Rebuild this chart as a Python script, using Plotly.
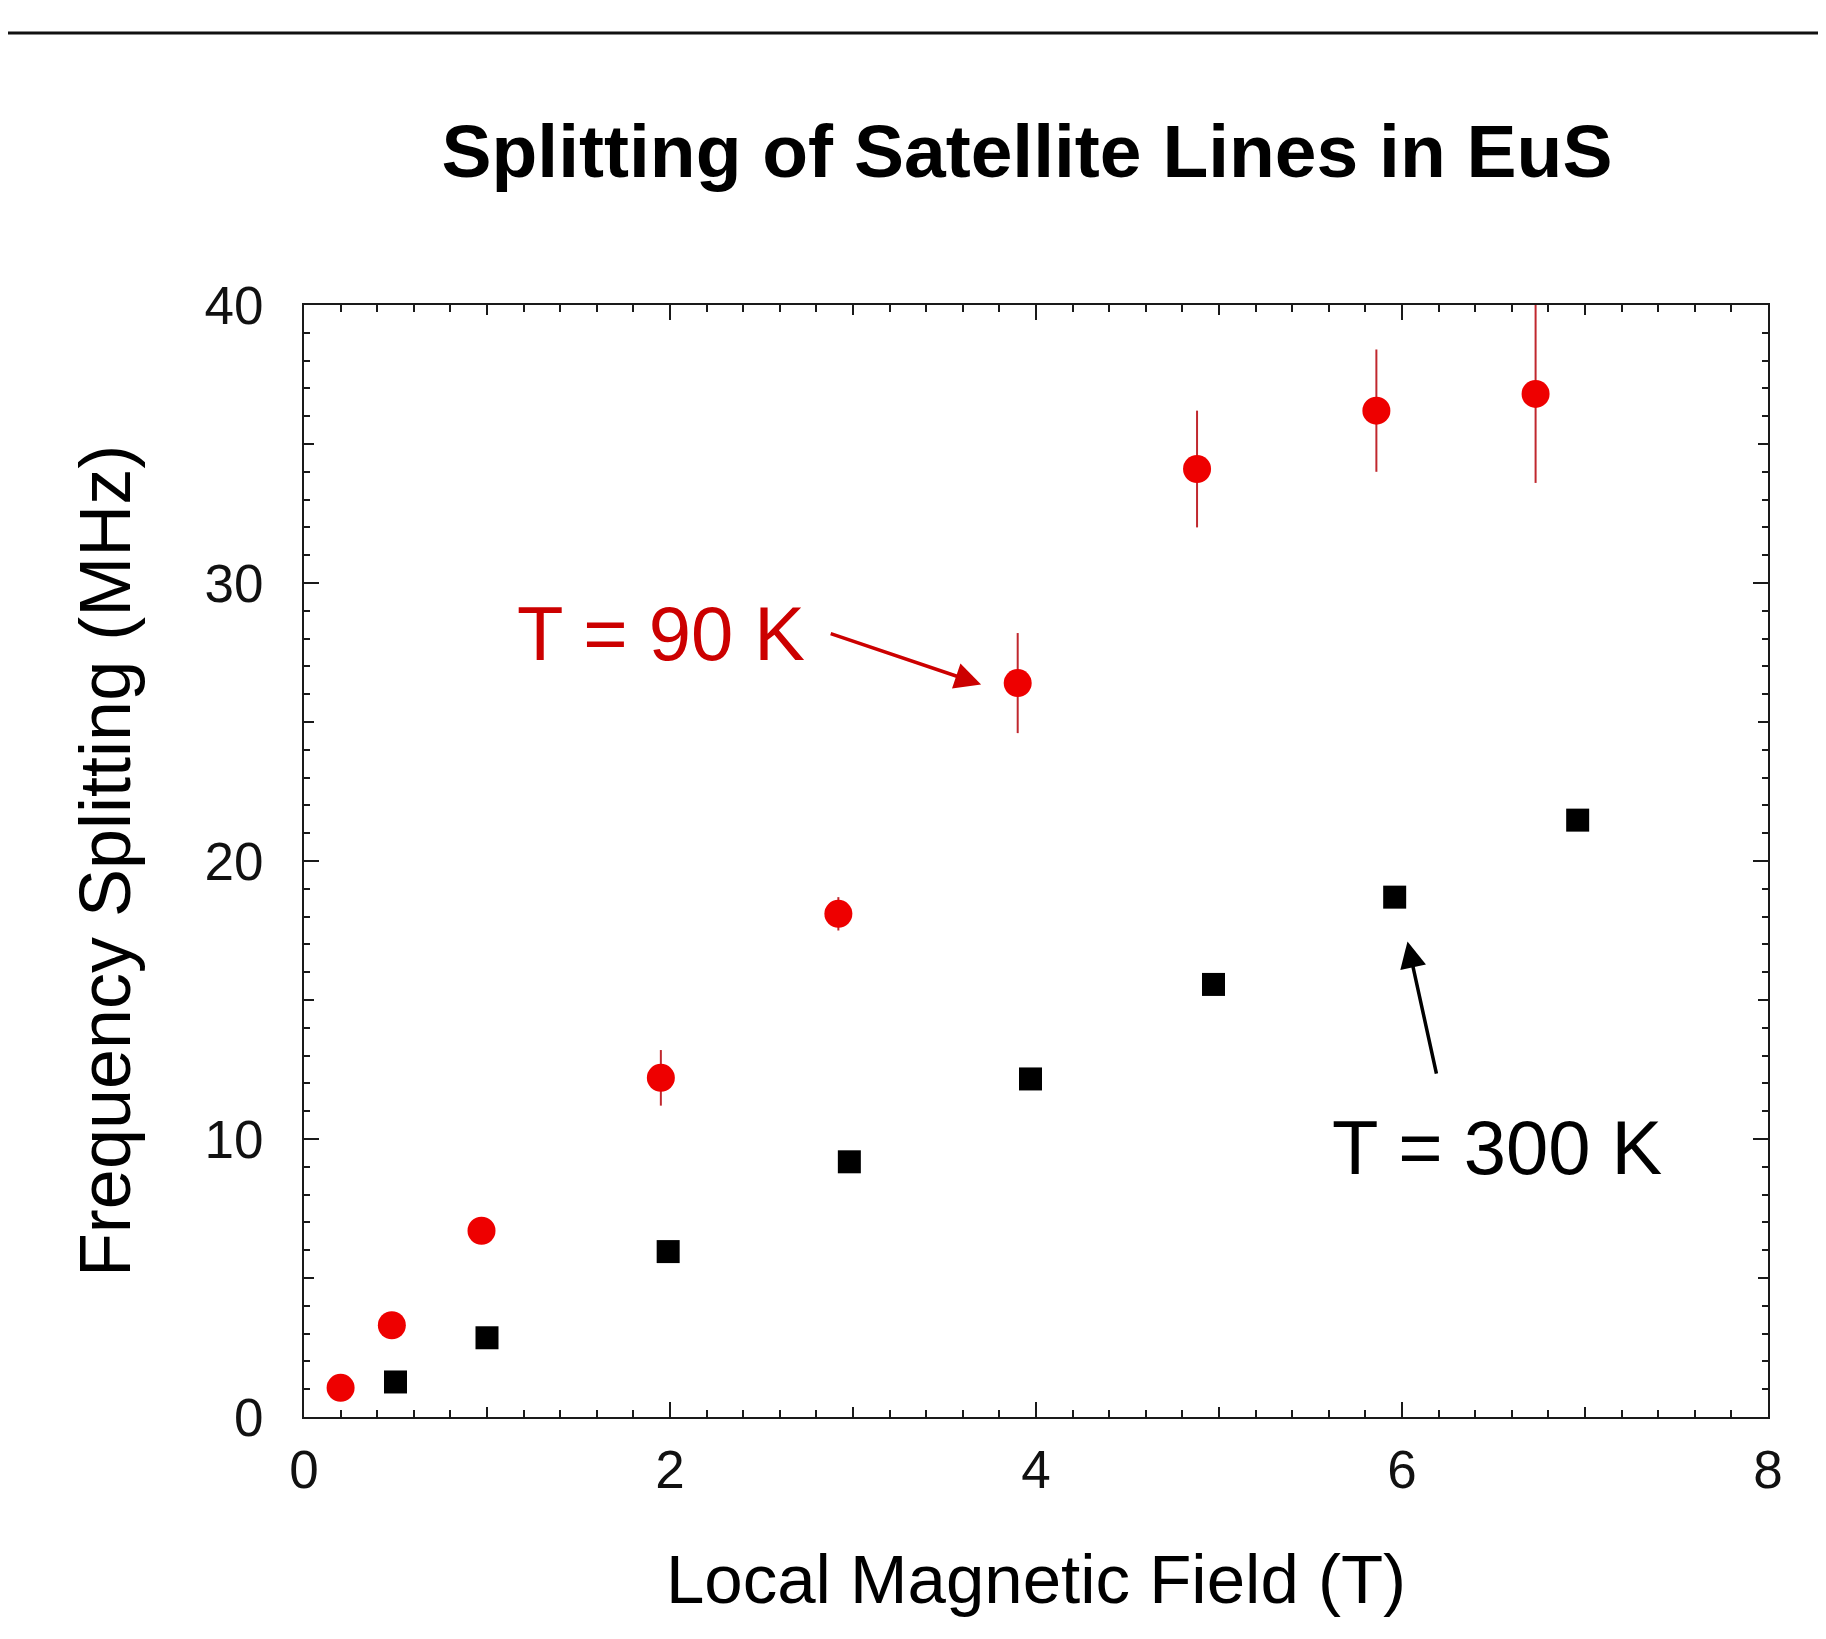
import plotly.graph_objects as go

# Data
field_90K = [0.20, 0.48, 0.97, 1.95, 2.92, 3.90, 4.88, 5.86, 6.73]
split_90K = [1.05, 3.30, 6.70, 12.20, 18.10, 26.40, 34.10, 36.20, 36.80]
err_90K = [0.3, 0.3, 0.3, 1.0, 0.6, 1.8, 2.1, 2.2, 3.2]

field_300K = [0.50, 1.00, 1.99, 2.98, 3.97, 4.97, 5.96, 6.96]
split_300K = [1.26, 2.85, 5.95, 9.18, 12.16, 15.56, 18.70, 21.47]

x_major_ticks = [0, 2, 4, 6, 8]
y_major_ticks = [0, 10, 20, 30, 40]
x_mid_ticks = [1, 3, 5, 7]
y_mid_ticks = [5, 15, 25, 35]

FONT = "Liberation Sans, Arial, Helvetica, sans-serif"
AXC = "#1a1a1a"

fig = go.Figure()

fig.add_trace(go.Scatter(
    x=field_90K, y=split_90K, mode="markers",
    marker=dict(symbol="circle", size=28, color="#ee0000", line=dict(width=0)),
    error_y=dict(type="data", array=err_90K, visible=True, color="#c0282e",
                 thickness=2, width=0),
    showlegend=False, cliponaxis=False,
))
fig.add_trace(go.Scatter(
    x=field_300K, y=split_300K, mode="markers",
    marker=dict(symbol="square", size=23, color="#000000", line=dict(width=0)),
    showlegend=False,
))
# invisible trace to activate the overlay axes used for mid-length ticks
fig.add_trace(go.Scatter(x=[0], y=[0], xaxis="x2", yaxis="y2", mode="markers",
                         marker=dict(opacity=0), showlegend=False, hoverinfo="skip"))

W, H = 1826, 1639
L, R, T, B = 296, 66, 297, 230
pw, ph = W - L - R, H - T - B

fig.update_layout(
    width=W, height=H,
    margin=dict(l=L, r=R, t=T, b=B),
    paper_bgcolor="white", plot_bgcolor="white",
    font=dict(family=FONT, color="#000000"),
    title=dict(text="<b>Splitting of Satellite Lines in EuS</b>",
               font=dict(size=75, family=FONT, color="#000000"),
               x=1019 / W, xanchor="center", xref="container",
               y=1 - 143 / H, yanchor="middle", yref="container"),
    xaxis=dict(
        range=[0, 8], tickvals=x_major_ticks, ticks="inside", ticklen=15, tickwidth=2,
        tickcolor=AXC, showline=True, linecolor=AXC, linewidth=2, mirror="ticks",
        showgrid=False, zeroline=False,
        tickfont=dict(size=53, family=FONT, color="#111111"),
        ticklabelstandoff=5,
        minor=dict(dtick=0.2, ticks="inside", ticklen=7, tickwidth=2, tickcolor=AXC,
                   showgrid=False),
        title=dict(text="Local Magnetic Field (T)", font=dict(size=69, family=FONT),
                   standoff=57),
    ),
    yaxis=dict(
        range=[0, 40], tickvals=y_major_ticks, ticks="inside", ticklen=15, tickwidth=2,
        tickcolor=AXC, showline=True, linecolor=AXC, linewidth=2, mirror="ticks",
        showgrid=False, zeroline=False,
        tickfont=dict(size=53, family=FONT, color="#111111"),
        ticklabelstandoff=28,
        minor=dict(dtick=1, ticks="inside", ticklen=6, tickwidth=2, tickcolor=AXC,
                   showgrid=False),
        title=dict(text="Frequency Splitting (MHz)", font=dict(size=72, family=FONT),
                   standoff=50),
    ),
    xaxis2=dict(range=[0, 8], overlaying="x", tickvals=x_mid_ticks, ticks="inside",
                ticklen=10, tickwidth=2, tickcolor=AXC, mirror="ticks", showline=False,
                showticklabels=False, showgrid=False, zeroline=False, anchor="y2"),
    yaxis2=dict(range=[0, 40], overlaying="y", tickvals=y_mid_ticks, ticks="inside",
                ticklen=10, tickwidth=2, tickcolor=AXC, mirror="ticks", showline=False,
                showticklabels=False, showgrid=False, zeroline=False, anchor="x2"),
)

# Labels with arrows
fig.add_annotation(x=1.95, y=28.2, xref="x", yref="y", text="T = 90 K", showarrow=False,
                   font=dict(size=76, family=FONT, color="#cc0000"),
                   xanchor="center", yanchor="middle")
fig.add_annotation(x=3.70, y=26.35, ax=2.87, ay=28.2, xref="x", yref="y", axref="x", ayref="y",
                   text="", showarrow=True, arrowhead=2, arrowsize=1.5, arrowwidth=3.5,
                   arrowcolor="#cc0000")
fig.add_annotation(x=6.52, y=9.7, xref="x", yref="y", text="T = 300 K", showarrow=False,
                   font=dict(size=76, family=FONT, color="#000000"),
                   xanchor="center", yanchor="middle")
fig.add_annotation(x=6.03, y=17.1, ax=6.19, ay=12.3, xref="x", yref="y", axref="x", ayref="y",
                   text="", showarrow=True, arrowhead=2, arrowsize=1.5, arrowwidth=3.5,
                   arrowcolor="#000000")

# Top rule across the page
rule_y = (H - B - 25) / ph
fig.add_shape(type="line", xref="paper", yref="paper",
              x0=-L / pw, x1=(W - L) / pw, y0=rule_y, y1=rule_y,
              line=dict(color="#111111", width=3))

fig.write_html("out.html")
